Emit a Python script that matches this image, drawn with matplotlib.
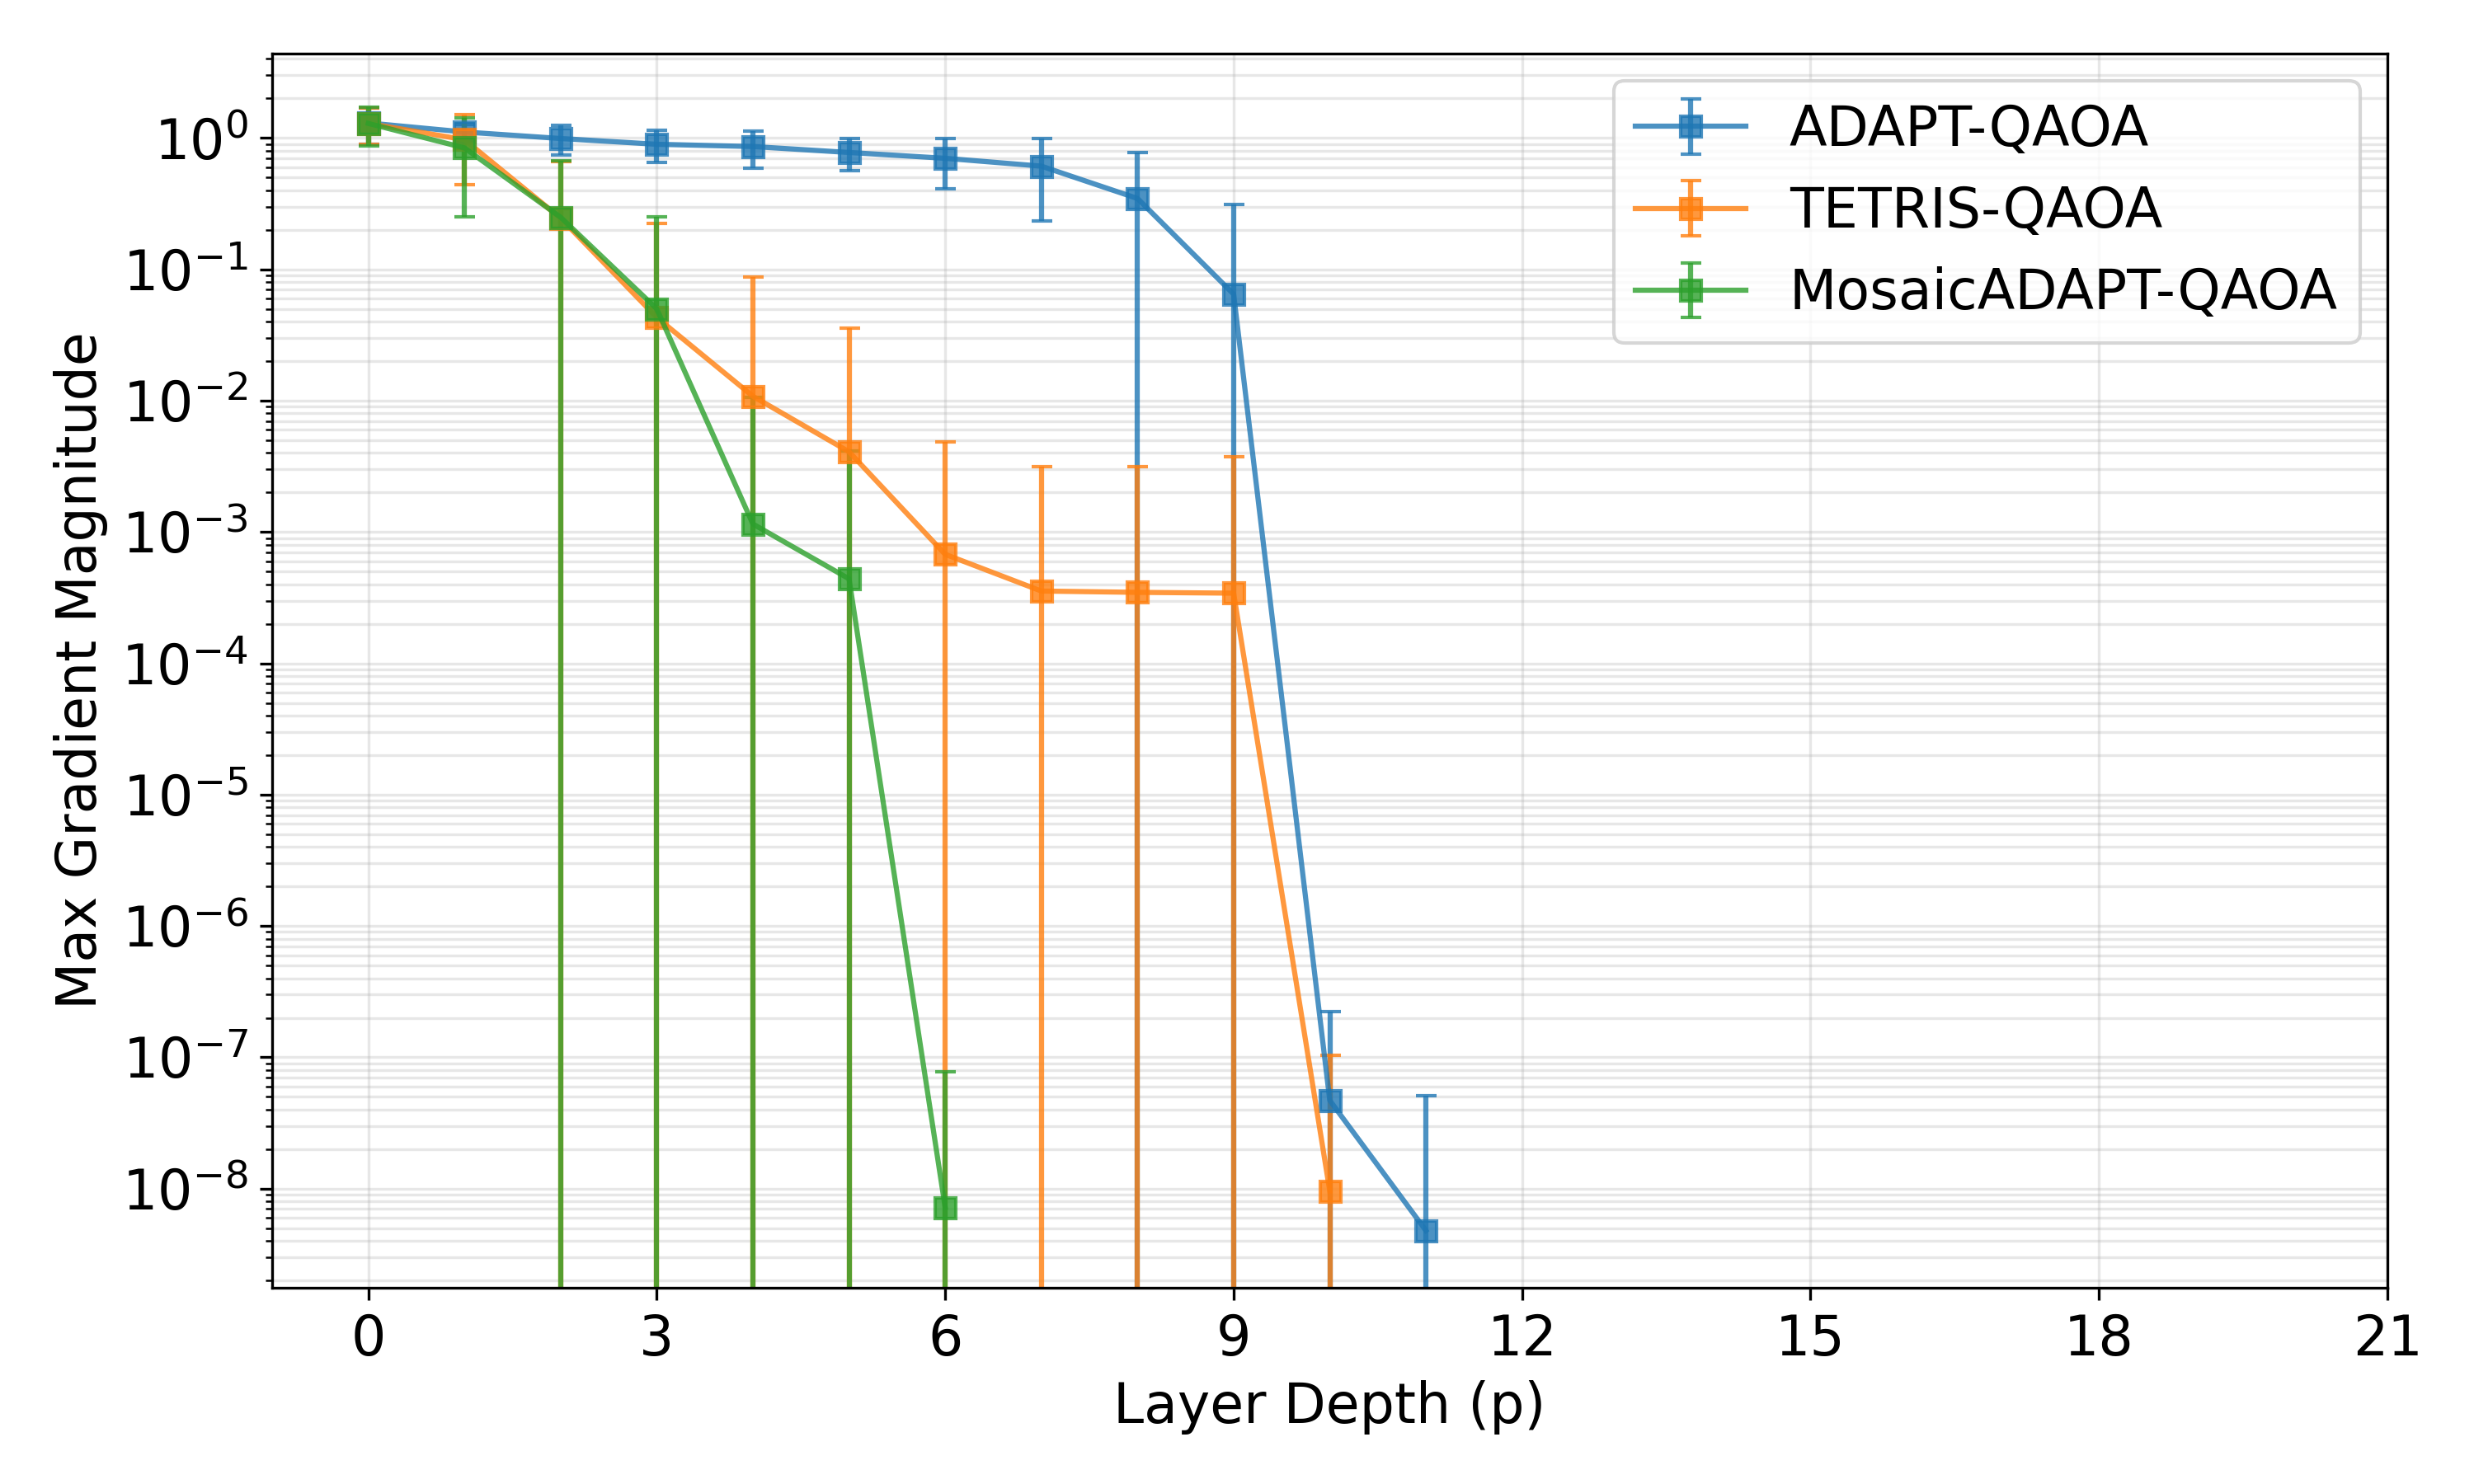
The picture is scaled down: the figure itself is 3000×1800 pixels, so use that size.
import numpy as np
import matplotlib
matplotlib.use("Agg")
import matplotlib.pyplot as plt
from matplotlib.ticker import LogLocator, NullFormatter

# layer depth per method
depth_adapt = [0, 1, 2, 3, 4, 5, 6, 7, 8, 9, 10, 11]
depth_tetris = [0, 1, 2, 3, 4, 5, 6, 7, 8, 9, 10]
depth_mosaic = [0, 1, 2, 3, 4, 5, 6]

# mean max gradient and its spread
adapt_mean = [1.30, 1.11, 0.99, 0.895, 0.86, 0.775, 0.70, 0.61, 0.346, 0.0647, 4.7e-8, 4.8e-9]
adapt_std = [0.40, 0.15, 0.25, 0.245, 0.27, 0.215, 0.29, 0.375, 0.43, 0.245, 1.77e-7, 4.6e-8]

tetris_mean = [1.29, 0.97, 0.245, 0.043, 0.0108, 4.08e-3, 6.76e-4, 3.55e-4, 3.47e-4, 3.42e-4, 9.6e-9]
tetris_std = [0.40, 0.53, 0.42, 0.18, 0.077, 0.0316, 4.2e-3, 2.8e-3, 2.8e-3, 3.4e-3, 9.4e-8]

mosaic_mean = [1.29, 0.84, 0.249, 0.050, 1.15e-3, 4.4e-4, 7.2e-9]
mosaic_std = [0.42, 0.59, 0.425, 0.20, 9.5e-3, 3.7e-3, 7.1e-8]

xticks = [0, 3, 6, 9, 12, 15, 18, 21]

fig, ax = plt.subplots(figsize=(10, 6), dpi=300)
fig.subplots_adjust(left=0.110, right=0.965, top=0.964, bottom=0.132)

ax.errorbar(depth_adapt, adapt_mean, yerr=adapt_std, marker='s', capsize=3,
            alpha=0.8, label='ADAPT-QAOA')
ax.errorbar(depth_tetris, tetris_mean, yerr=tetris_std, marker='s', capsize=3,
            alpha=0.8, label='TETRIS-QAOA')
ax.errorbar(depth_mosaic, mosaic_mean, yerr=mosaic_std, marker='s', capsize=3,
            alpha=0.8, label='MosaicADAPT-QAOA')

ax.set_yscale('log')
ax.set_ylim(1.75e-9, 4.4)
ax.set_xlim(-1, 21)
ax.set_xticks(xticks)
ax.yaxis.set_major_locator(LogLocator(base=10, numticks=20))
ax.yaxis.set_minor_locator(LogLocator(base=10, subs=np.arange(2, 10), numticks=20))
ax.yaxis.set_minor_formatter(NullFormatter())

ax.set_xlabel('Layer Depth (p)', fontsize=16)
ax.set_ylabel('Max Gradient Magnitude', fontsize=16)
ax.tick_params(axis='both', which='major', labelsize=16)
ax.grid(True, which='both', alpha=0.3)
ax.legend(fontsize=16, loc='upper right')

fig.savefig('out.png', dpi=300)
